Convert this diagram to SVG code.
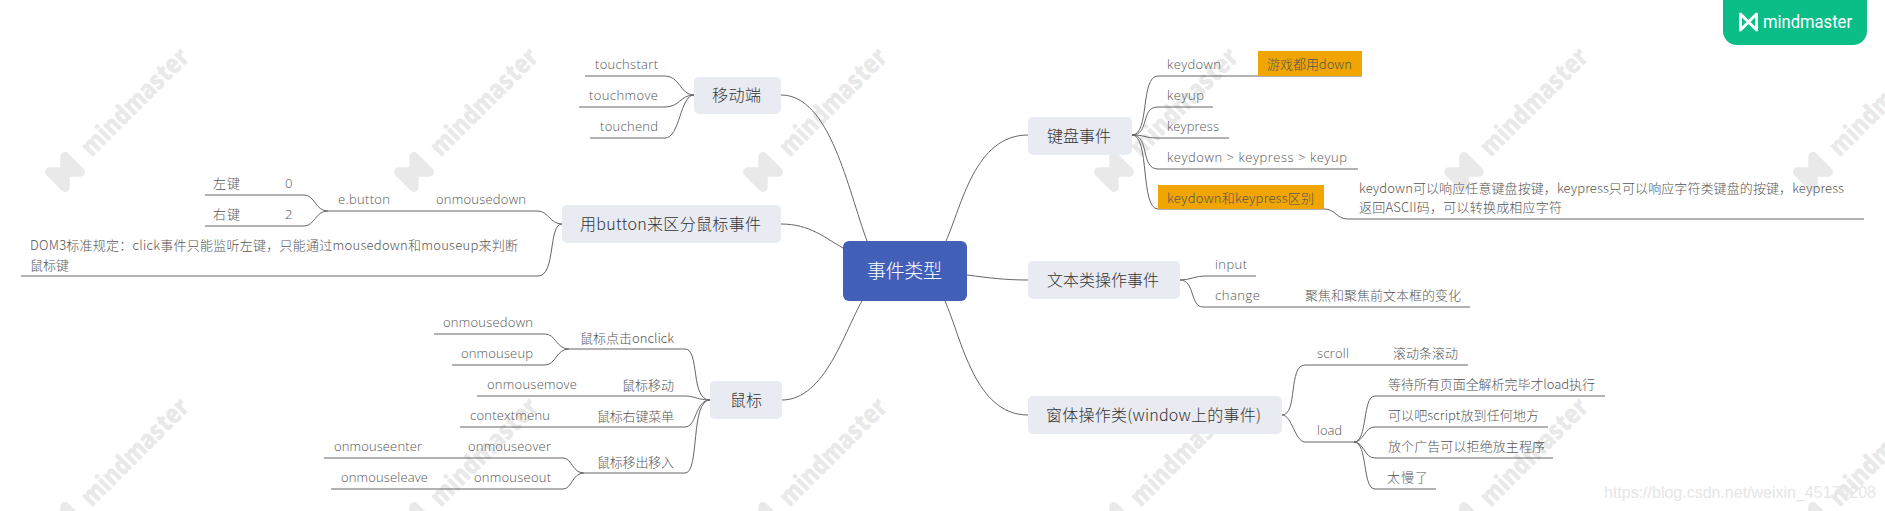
<svg xmlns="http://www.w3.org/2000/svg" width="1885" height="511" viewBox="0 0 1885 511">
<style>
text{font-family:"Open Sans","Noto Sans CJK SC",sans-serif;fill:#555}
.l{font-size:13px;font-weight:300}
.c{font-size:13px;font-weight:300;font-family:"Noto Sans CJK SC",sans-serif}
.t{font-size:16px;font-weight:300;fill:#333;font-family:"Noto Sans CJK SC",sans-serif}
.n{fill:#e9ebf3}
.o{fill:#f0a500}
#conn path{fill:none;stroke:#666;stroke-width:1}
.wm text{font-size:27px;font-weight:800;fill:#e9e9e9;font-family:"Open Sans",sans-serif}
.mk{fill:none;stroke-linejoin:round;stroke-linecap:round}
</style>
<defs>
<path id="mk" class="mk" d="M-8 -8V8L8 -8V8Z"/>
<g id="wm" class="wm"><use href="#mk" transform="scale(1.35)" stroke="#e9e9e9" stroke-width="7"/><text x="29" y="9" textLength="140" lengthAdjust="spacingAndGlyphs">mindmaster</text></g>
</defs>
<rect width="1885" height="511" fill="#fff"/>
<g id="watermarks">
<use href="#wm" transform="translate(65 172) rotate(-45)"/>
<use href="#wm" transform="translate(414 172) rotate(-45)"/>
<use href="#wm" transform="translate(763 172) rotate(-45)"/>
<use href="#wm" transform="translate(1114 172) rotate(-45)"/>
<use href="#wm" transform="translate(1464 172) rotate(-45)"/>
<use href="#wm" transform="translate(1813 172) rotate(-45)"/>
<use href="#wm" transform="translate(65 522) rotate(-45)"/>
<use href="#wm" transform="translate(414 522) rotate(-45)"/>
<use href="#wm" transform="translate(763 522) rotate(-45)"/>
<use href="#wm" transform="translate(1114 522) rotate(-45)"/>
<use href="#wm" transform="translate(1464 522) rotate(-45)"/>
<use href="#wm" transform="translate(1813 522) rotate(-45)"/>
</g>
<g id="conn">
<path d="M867 241C848 190 830 95 781 95"/>
<path d="M843 248C825 238 810 224 781 224"/>
<path d="M862 301C845 330 825 400 782 400"/>
<path d="M946 241C962 205 975 135 1028 135"/>
<path d="M967 275C990 278 1005 280 1028 280"/>
<path d="M945 301C962 340 975 415 1028 415"/>
<path d="M694 95C680 95 680 76 665 76H585"/>
<path d="M694 95C680 95 680 107 665 107H579"/>
<path d="M694 95C680 95 680 138 665 138H590"/>
<path d="M562 224C550 224 548 211 538 211H328"/>
<path d="M328 211C315 211 315 195 304 195H205"/>
<path d="M328 211C315 211 315 226 304 226H205"/>
<path d="M562 224C548 224 556 276 538 276H21"/>
<path d="M710 400C690 400 700 349 685 349H569"/>
<path d="M569 349C556 349 556 334 545 334H434"/>
<path d="M569 349C556 349 556 365 545 365H452"/>
<path d="M710 400C698 400 695 396 685 396H477"/>
<path d="M710 400C695 400 697 427 685 427H460"/>
<path d="M710 400C690 400 700 473 685 473H584"/>
<path d="M584 473C572 473 572 458 563 458H324"/>
<path d="M584 473C572 473 572 489 563 489H331"/>
<path d="M1132 135C1150 135 1140 76 1158 76H1362"/>
<path d="M1132 135C1150 135 1140 107 1158 107H1213"/>
<path d="M1132 135C1145 135 1145 138 1158 138H1229"/>
<path d="M1132 135C1150 135 1140 169 1158 169H1358"/>
<path d="M1132 135C1150 135 1140 209 1158 209H1324"/>
<path d="M1324 209C1336 209 1336 219 1348 219H1864"/>
<path d="M1180 280C1190 280 1195 276 1205 276H1256"/>
<path d="M1180 280C1195 280 1190 307 1203 307H1470"/>
<path d="M1282 415C1298 415 1288 365 1305 365H1468"/>
<path d="M1282 415C1292 415 1295 442 1305 442H1354"/>
<path d="M1354 442C1368 442 1362 396 1375 396H1605"/>
<path d="M1354 442C1364 442 1364 427 1375 427H1548"/>
<path d="M1354 442C1364 442 1364 458 1375 458H1553"/>
<path d="M1354 442C1368 442 1362 489 1375 489H1436"/>
</g>
<g id="root"><rect x="843" y="241" width="124" height="60" rx="6" fill="#4360b8"/><text x="867" y="278" textLength="75" style="font-size:19px;font-weight:300;fill:#fff;font-family:'Noto Sans CJK SC',sans-serif">事件类型</text></g>
<g id="n-mobile"><rect class="n" x="694" y="77" width="87" height="37" rx="5"/><text class="t" x="712" y="101" textLength="49">移动端</text></g>
<g id="n-button"><rect class="n" x="562" y="205" width="219" height="38" rx="5"/><text class="t" x="580" y="230" textLength="181">用button来区分鼠标事件</text></g>
<g id="n-mouse"><rect class="n" x="710" y="381" width="72" height="38" rx="5"/><text class="t" x="730" y="406" textLength="32">鼠标</text></g>
<g id="n-key"><rect class="n" x="1028" y="117" width="104" height="38" rx="5"/><text class="t" x="1047" y="142" textLength="64">键盘事件</text></g>
<g id="n-text"><rect class="n" x="1028" y="261" width="152" height="38" rx="5"/><text class="t" x="1047" y="286" textLength="112">文本类操作事件</text></g>
<g id="n-win"><rect class="n" x="1028" y="396" width="254" height="38" rx="5"/><text class="t" x="1046" y="421" textLength="215">窗体操作类(window上的事件)</text></g>
<g id="leaf-mobile">
<g id="a1"><text class="l" x="595" y="69" textLength="63">touchstart</text></g>
<g id="a2"><text class="l" x="589" y="100" textLength="69">touchmove</text></g>
<g id="a3"><text class="l" x="600" y="131" textLength="58">touchend</text></g>
</g>
<g id="leaf-button">
<g id="b1"><text class="l" x="436" y="204" textLength="90">onmousedown</text></g>
<g id="b2"><text class="l" x="338" y="204" textLength="52">e.button</text></g>
<g id="b3"><text class="c" x="213" y="188" textLength="27">左键</text></g>
<g id="b4"><text class="l" x="285" y="188">0</text></g>
<g id="b5"><text class="c" x="213" y="219" textLength="27">右键</text></g>
<g id="b6"><text class="l" x="285" y="219">2</text></g>
<g id="b7"><text class="c" x="30" y="250" textLength="488">DOM3标准规定：click事件只能监听左键，只能通过mousedown和mouseup来判断</text><text class="c" x="30" y="270" textLength="39">鼠标键</text></g>
</g>
<g id="leaf-mouse">
<g id="c1"><text class="c" x="580" y="343" textLength="94">鼠标点击onclick</text></g>
<g id="c2"><text class="l" x="443" y="327" textLength="90">onmousedown</text></g>
<g id="c3"><text class="l" x="461" y="358" textLength="72">onmouseup</text></g>
<g id="c4"><text class="c" x="622" y="390" textLength="52">鼠标移动</text></g>
<g id="c5"><text class="l" x="487" y="389" textLength="90">onmousemove</text></g>
<g id="c6"><text class="c" x="597" y="421" textLength="77">鼠标右键菜单</text></g>
<g id="c7"><text class="l" x="470" y="420" textLength="80">contextmenu</text></g>
<g id="c8"><text class="c" x="597" y="467" textLength="77">鼠标移出移入</text></g>
<g id="c9"><text class="l" x="468" y="451" textLength="83">onmouseover</text></g>
<g id="c10"><text class="l" x="334" y="451" textLength="88">onmouseenter</text></g>
<g id="c11"><text class="l" x="474" y="482" textLength="77">onmouseout</text></g>
<g id="c12"><text class="l" x="341" y="482" textLength="87">onmouseleave</text></g>
</g>
<g id="leaf-key">
<g id="d1"><rect class="o" x="1258" y="51" width="104" height="25"/><text class="c" x="1267" y="69" textLength="85">游戏都用down</text></g>
<g id="d2"><text class="l" x="1167" y="69" textLength="54">keydown</text></g>
<g id="d3"><text class="l" x="1167" y="100" textLength="37">keyup</text></g>
<g id="d4"><text class="l" x="1167" y="131" textLength="52">keypress</text></g>
<g id="d5"><text class="l" x="1167" y="162" textLength="180">keydown &gt; keypress &gt; keyup</text></g>
<g id="d6"><rect class="o" x="1158" y="185" width="166" height="24"/><text class="c" x="1167" y="203" textLength="147">keydown和keypress区别</text></g>
<g id="d7"><text class="c" x="1359" y="193" textLength="485">keydown可以响应任意键盘按键，keypress只可以响应字符类键盘的按键，keypress</text><text class="c" x="1359" y="212" textLength="203">返回ASCII码，可以转换成相应字符</text></g>
</g>
<g id="leaf-text">
<g id="e1"><text class="l" x="1215" y="269" textLength="32">input</text></g>
<g id="e2"><text class="l" x="1215" y="300" textLength="45">change</text></g>
<g id="e3"><text class="c" x="1305" y="300" textLength="156">聚焦和聚焦前文本框的变化</text></g>
</g>
<g id="leaf-win">
<g id="f1"><text class="l" x="1317" y="358" textLength="32">scroll</text></g>
<g id="f2"><text class="c" x="1393" y="358" textLength="65">滚动条滚动</text></g>
<g id="f3"><text class="l" x="1317" y="435" textLength="25">load</text></g>
<g id="f4"><text class="c" x="1388" y="389" textLength="207">等待所有页面全解析完毕才load执行</text></g>
<g id="f5"><text class="c" x="1388" y="420" textLength="151">可以吧script放到任何地方</text></g>
<g id="f6"><text class="c" x="1388" y="451" textLength="157">放个广告可以拒绝放主程序</text></g>
<g id="f7"><text class="c" x="1387" y="482" textLength="41">太慢了</text></g>
</g>
<g id="logo"><path d="M1723 0H1867V31A14 14 0 0 1 1853 45H1737A14 14 0 0 1 1723 31Z" fill="#0bbd87"/><use href="#mk" transform="translate(1748.5 22)" stroke="#fff" stroke-width="3"/><text x="1763" y="28" textLength="89" lengthAdjust="spacingAndGlyphs" style="font-size:19px;fill:#fff;font-weight:400;font-family:Roboto,sans-serif">mindmaster</text></g>
<text id="csdn" x="1604" y="498" textLength="272" lengthAdjust="spacingAndGlyphs" style="font-size:17px;fill:#e6e6e6;font-family:'Liberation Sans',sans-serif">https://blog.csdn.net/weixin_45174208</text>
</svg>
